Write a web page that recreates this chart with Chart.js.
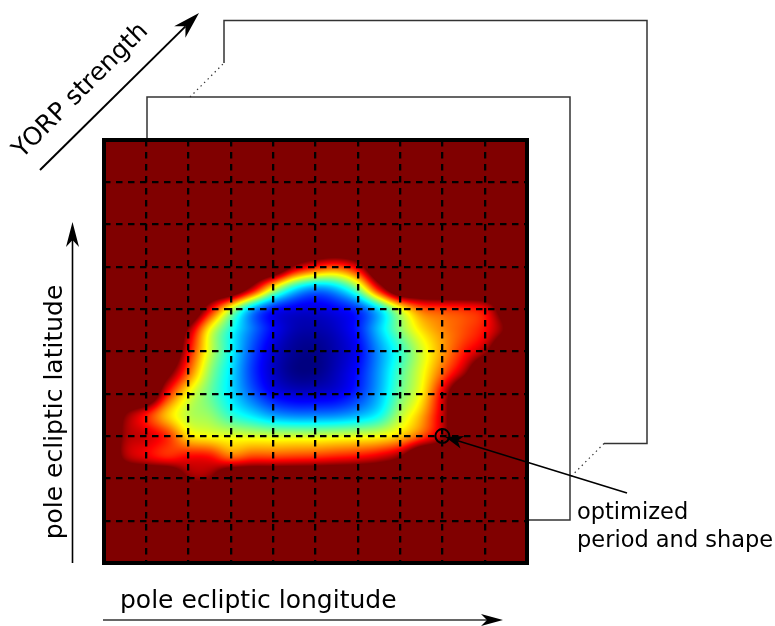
<!DOCTYPE html>
<html>
<head>
<meta charset="utf-8">
<script src="https://cdn.jsdelivr.net/npm/chart.js@4.4.0/dist/chart.umd.min.js"></script>
<style>
  html, body { margin: 0; padding: 0; background: #fff; }
  canvas { display: block; }
</style>
</head>
<body>
<canvas id="chart" width="775" height="626"></canvas>
<script>
// Sampling nodes of the misfit map (pole longitude / latitude, in grid-cell units)
const longitudeNodes = [0, 0.5, 1, 1.5, 2, 2.5, 3, 3.5, 4, 4.5, 5, 5.5, 6, 6.5, 7, 7.5, 8, 8.5, 9, 9.5, 10];
const latitudeNodes  = [10, 9.5, 9, 8.5, 8, 7.5, 7, 6.5, 6, 5.5, 5, 4.5, 4, 3.5, 3, 2.5, 2, 1.5, 1, 0.5, 0];

// Normalised misfit (0 = best fit, colour scale saturates at 1), one row per latitude node, top to bottom
const misfit = [
  [1.2,1.2,1.2,1.2,1.2,1.2,1.2,1.2,1.2,1.2,1.2,1.2,1.2,1.2,1.2,1.2,1.2,1.2,1.2,1.2,1.2],
  [1.2,1.2,1.2,1.2,1.2,1.2,1.2,1.2,1.2,1.2,1.2,1.2,1.2,1.2,1.2,1.2,1.2,1.2,1.2,1.2,1.2],
  [1.2,1.2,1.2,1.2,1.2,1.2,1.2,1.2,1.2,1.2,1.2,1.2,1.2,1.2,1.2,1.2,1.2,1.2,1.2,1.2,1.2],
  [1.2,1.2,1.2,1.2,1.2,1.2,1.2,1.2,1.2,1.2,1.2,1.2,1.2,1.2,1.2,1.2,1.2,1.2,1.2,1.2,1.2],
  [1.2,1.2,1.2,1.2,1.2,1.2,1.2,1.2,1.2,1.2,1.2,1.2,1.2,1.2,1.2,1.2,1.2,1.2,1.2,1.2,1.2],
  [1.2,1.2,1.2,1.2,1.2,1.2,1.2,1.2,1.2,1.2,1.2,1.2,1.2,1.2,1.2,1.2,1.2,1.2,1.2,1.2,1.2],
  [1.2,1.2,1.2,1.2,1.2,1.2,1.2,1.2,1.2,0.97,0.85,0.8,0.92,1.2,1.2,1.2,1.2,1.2,1.2,1.2,1.2],
  [1.2,1.2,1.2,1.2,1.2,1.2,1.2,0.95,0.62,0.38,0.28,0.33,0.52,0.9,1.2,1.2,1.2,1.2,1.2,1.2,1.2],
  [1.2,1.2,1.2,1.2,1.2,0.9,0.58,0.3,0.15,0.1,0.09,0.12,0.18,0.35,0.6,0.78,0.82,0.84,0.89,1.1,1.2],
  [1.2,1.2,1.2,1.2,0.97,0.62,0.4,0.24,0.12,0.05,0.04,0.07,0.15,0.32,0.5,0.65,0.74,0.8,0.87,1.02,1.2],
  [1.2,1.2,1.2,1.2,0.88,0.58,0.38,0.2,0.08,0.02,0.01,0.05,0.12,0.27,0.42,0.58,0.72,0.85,0.97,1.2,1.2],
  [1.2,1.2,1.2,1.05,0.78,0.52,0.35,0.18,0.07,0.01,0.01,0.06,0.14,0.28,0.45,0.6,0.78,0.96,1.2,1.2,1.2],
  [1.2,1.2,1.2,0.86,0.62,0.48,0.35,0.22,0.12,0.08,0.08,0.1,0.17,0.3,0.48,0.63,0.9,1.2,1.2,1.2,1.2],
  [1.2,1.0,0.86,0.68,0.56,0.52,0.42,0.35,0.28,0.25,0.25,0.26,0.3,0.38,0.55,0.7,0.93,1.2,1.2,1.2,1.2],
  [1.2,0.97,0.92,0.83,0.66,0.62,0.6,0.59,0.58,0.58,0.58,0.59,0.6,0.62,0.68,0.8,0.96,1.2,1.2,1.2,1.2],
  [1.2,0.97,0.9,0.85,0.88,0.87,0.78,0.82,0.82,0.83,0.84,0.86,0.88,0.92,1.0,1.2,1.2,1.2,1.2,1.2,1.2],
  [1.2,1.2,1.2,1.2,1.0,1.0,1.2,1.2,1.2,1.2,1.2,1.2,1.2,1.2,1.2,1.2,1.2,1.2,1.2,1.2,1.2],
  [1.2,1.2,1.2,1.2,1.2,1.2,1.2,1.2,1.2,1.2,1.2,1.2,1.2,1.2,1.2,1.2,1.2,1.2,1.2,1.2,1.2],
  [1.2,1.2,1.2,1.2,1.2,1.2,1.2,1.2,1.2,1.2,1.2,1.2,1.2,1.2,1.2,1.2,1.2,1.2,1.2,1.2,1.2],
  [1.2,1.2,1.2,1.2,1.2,1.2,1.2,1.2,1.2,1.2,1.2,1.2,1.2,1.2,1.2,1.2,1.2,1.2,1.2,1.2,1.2],
  [1.2,1.2,1.2,1.2,1.2,1.2,1.2,1.2,1.2,1.2,1.2,1.2,1.2,1.2,1.2,1.2,1.2,1.2,1.2,1.2,1.2]
];

// Optimized solution (period and shape) in the longitude/latitude grid
const optimumLongitude = [8];
const optimumLatitude = [3];

const FONT = '"DejaVu Sans", Verdana, sans-serif';

function jet(v) {
  const c = x => Math.max(0, Math.min(1, x));
  return [c(1.5 - Math.abs(4 * v - 3)), c(1.5 - Math.abs(4 * v - 2)), c(1.5 - Math.abs(4 * v - 1))];
}

function fracIndex(nodes, v) {
  const n = nodes.length;
  for (let k = 0; k < n - 1; k++) {
    const a = nodes[k], b = nodes[k + 1];
    if ((v - a) * (v - b) <= 0) return k + (v - a) / (b - a);
  }
  return Math.abs(v - nodes[0]) < Math.abs(v - nodes[n - 1]) ? 0 : n - 1;
}

function catmull(p0, p1, p2, p3, t) {
  return p1 + 0.5 * t * (p2 - p0 + t * (2 * p0 - 5 * p1 + 4 * p2 - p3 + t * (3 * (p1 - p2) + p3 - p0)));
}

// Bicubic sample of the misfit table, clipped to the colour range
function sample(fx, fy) {
  const rows = misfit.length, cols = misfit[0].length;
  const i = Math.min(Math.floor(fx), cols - 2), j = Math.min(Math.floor(fy), rows - 2);
  const tx = fx - i, ty = fy - j;
  const ci = k => Math.max(0, Math.min(cols - 1, k));
  const rj = k => Math.max(0, Math.min(rows - 1, k));
  const vals = [];
  for (let m = -1; m <= 2; m++) {
    const row = misfit[rj(j + m)];
    vals.push(catmull(row[ci(i - 1)], row[ci(i)], row[ci(i + 1)], row[ci(i + 2)], tx));
  }
  return Math.max(0, Math.min(1, catmull(vals[0], vals[1], vals[2], vals[3], ty)));
}

// Paints the misfit surface underneath the grid lines
const heatmapPlugin = {
  id: 'heatmap',
  beforeDraw(chart) {
    const { ctx, chartArea: ca, scales } = chart;
    const w = Math.round(ca.right - ca.left), h = Math.round(ca.bottom - ca.top);
    const off = document.createElement('canvas');
    off.width = w; off.height = h;
    const octx = off.getContext('2d');
    const img = octx.createImageData(w, h);
    const fxs = [], fys = [];
    for (let px = 0; px < w; px++) fxs.push(fracIndex(longitudeNodes, scales.x.getValueForPixel(ca.left + px + 0.5)));
    for (let py = 0; py < h; py++) fys.push(fracIndex(latitudeNodes, scales.y.getValueForPixel(ca.top + py + 0.5)));
    for (let py = 0; py < h; py++) {
      for (let px = 0; px < w; px++) {
        const [r, g, b] = jet(sample(fxs[px], fys[py]));
        const o = (py * w + px) * 4;
        img.data[o] = r * 255; img.data[o + 1] = g * 255; img.data[o + 2] = b * 255; img.data[o + 3] = 255;
      }
    }
    octx.putImageData(img, 0, 0);
    ctx.drawImage(off, ca.left, ca.top);
  }
};

function arrowHead(ctx, x, y, angle, len, half, notch) {
  ctx.save();
  ctx.translate(x, y);
  ctx.rotate(angle);
  ctx.beginPath();
  ctx.moveTo(0, 0);
  ctx.lineTo(-len, -half);
  ctx.lineTo(-len + notch, 0);
  ctx.lineTo(-len, half);
  ctx.closePath();
  ctx.fill();
  ctx.restore();
}

function arrow(ctx, x1, y1, x2, y2, len, half, notch, width, color) {
  const a = Math.atan2(y2 - y1, x2 - x1);
  ctx.save();
  ctx.strokeStyle = color; ctx.fillStyle = '#000'; ctx.lineWidth = width;
  ctx.beginPath();
  ctx.moveTo(x1, y1);
  ctx.lineTo(x2 - Math.cos(a) * (len - notch), y2 - Math.sin(a) * (len - notch));
  ctx.stroke();
  arrowHead(ctx, x2, y2, a, len, half, notch);
  ctx.restore();
}

// Stacked panels behind the map, frame, axis arrows, labels and the annotation
const decorPlugin = {
  id: 'decor',
  afterDraw(chart) {
    const { ctx, chartArea: ca, scales } = chart;
    const d2 = 43, d3x = 120, d3y = 119.5;
    const p2 = { l: ca.left + d2, t: ca.top - d2, r: ca.right + d2, b: ca.bottom - d2 };
    const p3 = { l: ca.left + d3x, t: ca.top - d3y, r: ca.right + d3x, b: ca.bottom - d3y };
    const gap = 34;

    ctx.save();
    ctx.strokeStyle = '#333';
    ctx.lineWidth = 1.5;
    // second panel
    ctx.beginPath();
    ctx.moveTo(p2.l, ca.top); ctx.lineTo(p2.l, p2.t); ctx.lineTo(p2.r, p2.t); ctx.lineTo(p2.r, p2.b); ctx.lineTo(ca.right, p2.b);
    ctx.stroke();
    // last panel, partly hidden
    ctx.beginPath();
    ctx.moveTo(p3.l, p2.t - gap); ctx.lineTo(p3.l, p3.t); ctx.lineTo(p3.r, p3.t); ctx.lineTo(p3.r, p3.b); ctx.lineTo(p2.r + gap, p3.b);
    ctx.stroke();
    // ellipsis between panels
    ctx.setLineDash([1.4, 3.6]);
    ctx.lineWidth = 1.2;
    ctx.beginPath();
    ctx.moveTo(p3.l - gap, p2.t); ctx.lineTo(p3.l, p2.t - gap);
    ctx.moveTo(p2.r + gap, p3.b); ctx.lineTo(p2.r, p3.b + gap);
    ctx.stroke();
    ctx.restore();

    // heavy frame around the map
    ctx.save();
    ctx.strokeStyle = '#000';
    ctx.lineWidth = 4;
    ctx.strokeRect(ca.left, ca.top, ca.right - ca.left, ca.bottom - ca.top);
    ctx.restore();

    // axis arrows
    arrow(ctx, 103, 620, 503, 620, 22, 6, 6, 1.3, '#333');
    arrow(ctx, 72.5, ca.bottom, 72.5, 222, 25, 6.5, 7, 1.6, '#000');
    arrow(ctx, 40, 170, 199, 13, 27, 8, 8, 2, '#000');

    // labels
    ctx.save();
    ctx.fillStyle = '#000';
    ctx.font = '25px ' + FONT;
    ctx.textAlign = 'left';
    ctx.textBaseline = 'alphabetic';
    ctx.fillText('pole ecliptic longitude', 120, 608);

    ctx.save();
    ctx.translate(62, 412);
    ctx.rotate(-Math.PI / 2);
    ctx.textAlign = 'center';
    ctx.fillText('pole ecliptic latitude', 0, 0);
    ctx.restore();

    ctx.save();
    ctx.translate(85.5, 95.5);
    ctx.rotate(-Math.PI / 4);
    ctx.textAlign = 'center';
    ctx.fillText('YORP strength', 0, 0);
    ctx.restore();

    ctx.font = '22.5px ' + FONT;
    ctx.fillText('optimized', 577, 519);
    ctx.fillText('period and shape', 577, 547);
    ctx.restore();

    // annotation pointer to the optimized solution
    const ox = scales.x.getPixelForValue(optimumLongitude[0]);
    const oy = scales.y.getPixelForValue(optimumLatitude[0]);
    const sx = 627, sy = 493;
    const a = Math.atan2(oy - sy, ox - sx);
    arrow(ctx, sx, sy, ox - Math.cos(a) * 3, oy - Math.sin(a) * 3, 18, 6.5, 5, 1.6, '#000');
  }
};

new Chart(document.getElementById('chart'), {
  type: 'scatter',
  data: {
    datasets: [{
      data: optimumLongitude.map((x, k) => ({ x, y: optimumLatitude[k] })),
      pointStyle: 'circle',
      pointRadius: 7,
      borderColor: '#000',
      borderWidth: 2,
      backgroundColor: 'rgba(0,0,0,0)'
    }]
  },
  options: {
    responsive: false,
    animation: false,
    devicePixelRatio: 1,
    layout: { padding: { left: 104, top: 140, right: 248, bottom: 63 } },
    plugins: { legend: { display: false }, tooltip: { enabled: false } },
    scales: {
      x: {
        type: 'linear', min: 0, max: 10,
        ticks: { display: false, stepSize: 1 },
        grid: { color: '#000', lineWidth: 2.3, drawTicks: false },
        border: { display: false, dash: [6.5, 5.5] }
      },
      y: {
        type: 'linear', min: 0, max: 10,
        ticks: { display: false, stepSize: 1 },
        grid: { color: '#000', lineWidth: 2.3, drawTicks: false },
        border: { display: false, dash: [6.5, 5.5] }
      }
    }
  },
  plugins: [heatmapPlugin, decorPlugin]
});
</script>
</body>
</html>
